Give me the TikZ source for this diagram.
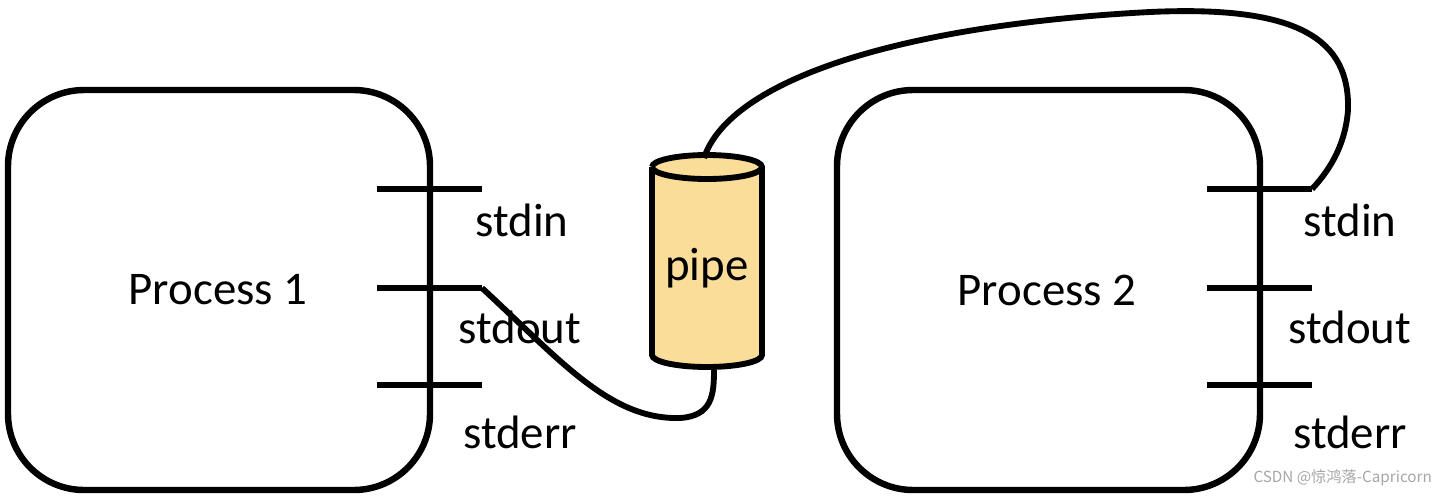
\documentclass[tikz,border=0pt]{standalone}
\usepackage{fontspec}
\setmainfont{Carlito}
\newfontfamily\cjk{Noto Sans CJK SC}
\usetikzlibrary{shapes.geometric}
\definecolor{pipefill}{HTML}{F9DD99}
\begin{document}
\begin{tikzpicture}[x=0.03cm,y=-0.03cm,
  box/.style={draw,line width=5.5pt,rounded corners=65},
  tick/.style={line width=5pt},
  lab/.style={font=\fontsize{40}{42}\selectfont},
  wire/.style={line width=5pt}]
\useasboundingbox (0,0) rectangle (1444,497);
\draw[box] (8,90) rectangle (430,490);
\draw[box] (837,90) rectangle (1260,490);
\node[lab] (p1) at (218,290) {Process 1};
\node[lab] (p2) at (1047,290) {Process 2};
\foreach \n/\y in {in/189,out/288,err/385}{
  \coordinate (a\n l) at (377,\y); \coordinate (a\n r) at (482,\y);
  \draw[tick] (a\n l) -- (a\n r);
  \coordinate (b\n l) at (1207,\y); \coordinate (b\n r) at (1312,\y);
  \draw[tick] (b\n l) -- (b\n r);
}
\node[lab] (s1) at (522,220) {stdin};
\node[lab] (s2) at (520,327) {stdout};
\node[lab] (s3) at (520,432) {stderr};
\node[lab] (t1) at (1350,220) {stdin};
\node[lab] (t2) at (1350,327) {stdout};
\node[lab] (t3) at (1350,432) {stderr};
% cylinder
\filldraw[fill=pipefill,line width=5pt] (652,167) -- (652,355) arc[start angle=180,end angle=360,x radius=55,y radius=-12] -- (762,167) arc[start angle=0,end angle=180,x radius=55,y radius=-12];
\draw[line width=5pt] (652,167) arc[start angle=180,end angle=360,x radius=55,y radius=-12];
\node[lab] (pipe) at (707,268) {pipe};
\coordinate (pbot) at (714,370);
\coordinate (ptop) at (704,158);
\draw[wire] (aoutr) .. controls (560,360) and (610,420) .. (680,418) .. controls (712,416) and (714,395) .. (pbot);
\draw[wire] (ptop) .. controls (730,80) and (900,25) .. (1150,12) .. controls (1300,5) and (1350,40) .. (1348,110) .. controls (1345,150) and (1325,175) .. (binr);
\node[font=\cjk\fontsize{13}{14}\selectfont,text=gray!70,anchor=east] (wm) at (1436,478) {CSDN @惊鸿落-Capricorn};
\end{tikzpicture}
\end{document}
